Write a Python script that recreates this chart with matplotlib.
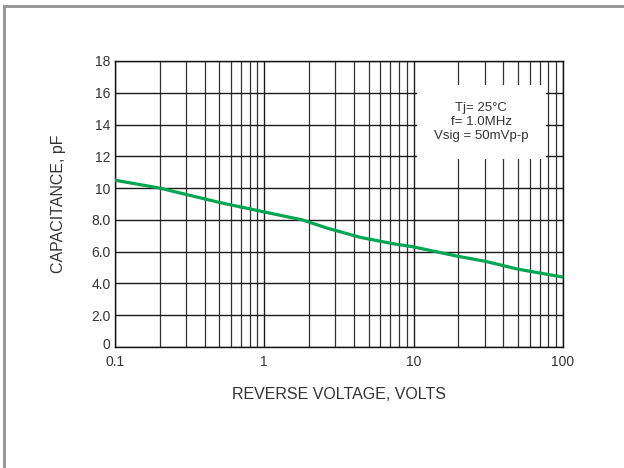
import matplotlib
matplotlib.use("Agg")
import matplotlib.pyplot as plt
from matplotlib.lines import Line2D
from matplotlib.ticker import FixedLocator, LogLocator, NullFormatter
from matplotlib.transforms import ScaledTranslation

plt.rcParams['font.family'] = ['Liberation Sans', 'DejaVu Sans']

# reverse voltage (V) and junction capacitance (pF)
volts = [0.1, 0.2, 0.5, 1, 1.8, 2.6, 4.4, 7.3, 10, 20, 30, 50, 100]
cap_pf = [10.5, 10.0, 9.1, 8.5, 8.0, 7.5, 6.9, 6.5, 6.3, 5.7, 5.4, 4.9, 4.4]

y_ticks = [0, 2, 4, 6, 8, 10, 12, 14, 16, 18]
y_labels = ["0", "2.0", "4.0", "6.0", "8.0", "10", "12", "14", "16", "18"]
x_ticks = [0.1, 1, 10, 100]
x_labels = ["0.1", "1", "10", "100"]

note = "Tj= 25\u00b0C\nf= 1.0MHz\nVsig = 50mVp-p"

fig = plt.figure(figsize=(6.24, 4.68), dpi=100)
ax = fig.add_axes([0.184, 0.2585, 0.718, 0.6112])

ax.plot(volts, cap_pf, color='#00a651', lw=2.3, zorder=3)

ax.set_xscale('log')
ax.set_xlim(0.1, 100)
ax.set_ylim(0, 18)
ax.xaxis.set_major_locator(FixedLocator(x_ticks))
ax.set_xticklabels(x_labels)
ax.xaxis.set_minor_locator(LogLocator(base=10, subs=range(2, 10)))
ax.xaxis.set_minor_formatter(NullFormatter())
ax.set_yticks(y_ticks)
ax.set_yticklabels(y_labels)

ax.grid(True, which='major', color='#1a1a1a', lw=1.0)
ax.grid(True, which='minor', axis='x', color='#333333', lw=0.9)
ax.tick_params(which='both', length=0, labelsize=10, colors='#333333')
ax.tick_params(axis='x', pad=6)
ax.tick_params(axis='y', pad=3)
for s in ax.spines.values():
    s.set_color('#111111')
    s.set_linewidth(1.0)

# lift the "0" label a little so it clears "0.1"
lbl0 = ax.get_yticklabels()[0]
lbl0.set_transform(lbl0.get_transform() + ScaledTranslation(0, 4 / 100, fig.dpi_scale_trans))

ax.set_xlabel("REVERSE VOLTAGE, VOLTS", fontsize=11.5, color='#333333', labelpad=13)
ax.set_ylabel("CAPACITANCE, pF", fontsize=11.5, color='#333333', labelpad=18)

ax.text(0.818, 0.787, note, transform=ax.transAxes, ha='center', va='center',
        fontsize=9.5, color='#333333', linespacing=1.2, zorder=4,
        bbox=dict(boxstyle='square,pad=1.3', facecolor='white', edgecolor='none'))

# grey frame on the top and left edges
fig.add_artist(Line2D([0.007, 1.0], [0.988, 0.988], color='#999999', lw=2.2))
fig.add_artist(Line2D([0.007, 0.007], [0.0, 0.988], color='#999999', lw=2.2))

fig.savefig("out.png", dpi=100)
